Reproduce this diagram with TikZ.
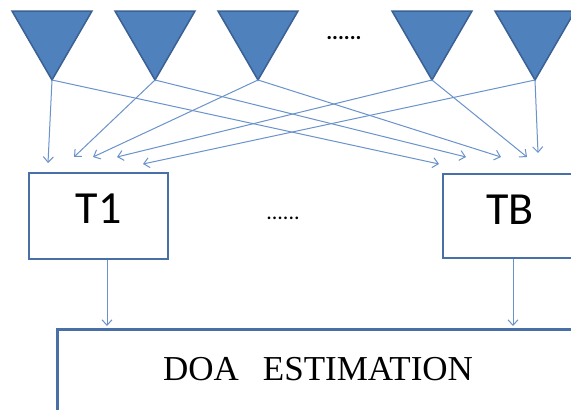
\documentclass[tikz,border=0pt]{standalone}
\usepackage{fontspec}
\setmainfont{Liberation Serif}
\newfontfamily\calib{Carlito}
\usetikzlibrary{arrows.meta}
\definecolor{antfill}{HTML}{4F81BD}
\definecolor{antdraw}{HTML}{3A6094}
\definecolor{linkc}{HTML}{6A93CB}
\definecolor{boxc}{HTML}{4870A6}
\tikzset{
  ant/.style={fill=antfill, draw=antdraw, line width=1.5pt, line join=miter},
  link/.style={draw=linkc, line width=1pt, -{Straight Barb[length=5.5pt,width=10pt]}},
  boxnode/.style={draw=boxc, line width=2.6pt, fill=white, inner sep=0pt},
  bigtxt/.style={font=\calib\fontsize{46}{46}\selectfont, inner sep=0pt, anchor=base},
  dotstxt/.style={font=\calib\fontsize{22}{22}\selectfont, inner sep=0pt},
}
\begin{document}
\begin{tikzpicture}[x=1pt,y=-1pt]
\clip (0,0) rectangle (571,410);
\fill[white] (0,0) rectangle (571,410);
% antenna tips
\coordinate (a1) at (52,80);
\coordinate (a2) at (155,80);
\coordinate (a3) at (258,80);
\coordinate (a4) at (432,80);
\coordinate (a5) at (535,80);
% antennas
\foreach \i/\x in {1/52,2/155,3/258,4/432,5/535}{
  \path[ant] (\x-40,11) -- (\x+40,11) -- (a\i) -- cycle;
}
\node[font=\calib\bfseries\fontsize{22}{22}\selectfont, inner sep=0pt] (topdots) at (344,38) {......};
% arrow ends
\coordinate (l1) at (48,163);
\coordinate (l2) at (74,157);
\coordinate (l3) at (93,157);
\coordinate (l4) at (117,157);
\coordinate (l5) at (143,164);
\coordinate (r1) at (439,164);
\coordinate (r2) at (466,157);
\coordinate (r3) at (501,157);
\coordinate (r4) at (527,157);
\coordinate (r5) at (538,153);
\foreach \i in {1,...,5}{
  \draw[link] (a\i) -- (l\i);
  \draw[link] (a\i) -- (r\i);
}
% boxes
\node[boxnode, minimum width=139pt, minimum height=86pt] (t1box) at (98.5,216) {};
\node[boxnode, minimum width=140pt, minimum height=84pt] (tbbox) at (513,216) {};
\node[bigtxt] (t1txt) at (98.5,223) {T1};
\node[bigtxt] (tbtxt) at (510,224) {TB};
\node[dotstxt] (middots) at (283,218) {......};
\node[boxnode, minimum width=560pt, minimum height=110pt, anchor=north west] (doa) at (56,328) {};
\node[font=\fontsize{35}{35}\selectfont, inner sep=0pt, anchor=base west] (doatxt) at (163,380) {DOA\hspace{24pt}ESTIMATION};
\coordinate (d1) at (107,326);
\coordinate (d2) at (513,326);
\draw[link] (t1box.south -| d1) -- (d1);
\draw[link] (tbbox.south -| d2) -- (d2);
\end{tikzpicture}
\end{document}
